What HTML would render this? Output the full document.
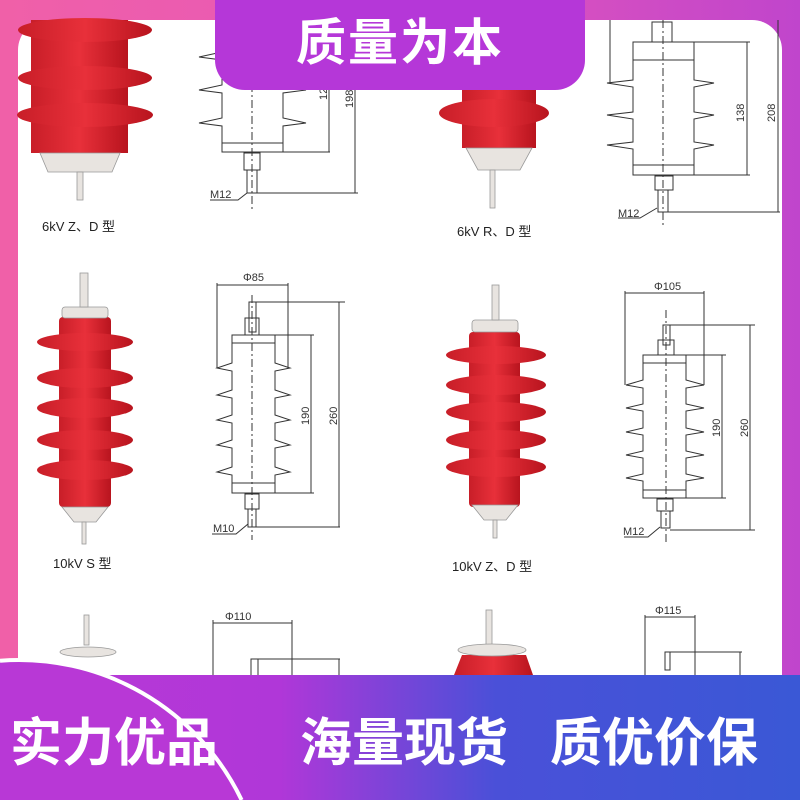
<!DOCTYPE html>
<html><head><meta charset="utf-8"><style>
html,body{margin:0;padding:0;width:800px;height:800px;overflow:hidden}
body{position:relative;background:linear-gradient(90deg,#f060a8 0%,#e657b8 50%,#c045cc 100%);font-family:"Liberation Sans","Noto Sans CJK SC",sans-serif}
#panel{position:absolute;left:18px;top:20px;width:764px;height:680px;background:#fff;border-radius:30px 30px 0 0;overflow:hidden}
#tab{position:absolute;left:215px;top:0;width:370px;height:90px;background:#b537d8;border-radius:0 0 30px 30px;color:#fff;font-size:50px;font-weight:bold;text-align:center;line-height:86px;letter-spacing:2px}
#band{position:absolute;left:0;top:675px;width:800px;height:125px;background:linear-gradient(90deg,#b838d6 0%,#b037d8 35%,#4a50d8 62%,#3a58d6 100%)}
.t{position:absolute;color:#fff;font-weight:bold;font-size:52px;top:716px;line-height:56px;height:56px}
svg text{font-family:"Liberation Sans","Noto Sans CJK SC",sans-serif}
</style></head><body>
<div id="panel"></div>
<svg width="800" height="800" style="position:absolute;left:0;top:0">
<defs><linearGradient id="r" x1="0" x2="1"><stop offset="0" stop-color="#c81e28"/><stop offset=".5" stop-color="#e8303a"/><stop offset="1" stop-color="#b8141e"/></linearGradient></defs>
<g fill="url(#r)">
<rect x="31" y="20" width="97" height="133"/>
<ellipse cx="85" cy="30" rx="67" ry="12"/><ellipse cx="85" cy="78" rx="67" ry="12"/><ellipse cx="85" cy="115" rx="68" ry="12"/>
<rect x="462" y="88" width="74" height="60"/><ellipse cx="494" cy="113" rx="55" ry="14"/>
<rect x="59" y="317" width="52" height="190" rx="4"/>
<ellipse cx="85" cy="342" rx="48" ry="9"/><ellipse cx="85" cy="378" rx="48" ry="10"/><ellipse cx="85" cy="408" rx="48" ry="10"/><ellipse cx="85" cy="440" rx="48" ry="10"/><ellipse cx="85" cy="470" rx="48" ry="10"/>
<rect x="469" y="332" width="51" height="175" rx="4"/>
<ellipse cx="496" cy="355" rx="50" ry="9"/><ellipse cx="496" cy="385" rx="50" ry="10"/><ellipse cx="496" cy="412" rx="50" ry="10"/><ellipse cx="496" cy="440" rx="50" ry="10"/><ellipse cx="496" cy="467" rx="50" ry="10"/>
<path d="M462 655 L526 655 L533 675 L454 675 Z"/>
</g>
<g fill="#e8e4e0" stroke="#999" stroke-width="0.8">
<path d="M40 153 L120 153 L112 172 L48 172 Z"/><rect x="77" y="172" width="6" height="28"/>
<path d="M466 148 L532 148 L520 170 L478 170 Z"/><rect x="490" y="170" width="5" height="38"/>
<rect x="62" y="307" width="46" height="11" rx="3"/><rect x="80" y="273" width="8" height="34"/>
<path d="M62 507 L108 507 L96 522 L74 522 Z"/><rect x="82" y="522" width="4" height="22"/>
<rect x="472" y="320" width="46" height="12" rx="3"/><rect x="492" y="285" width="7" height="35"/>
<path d="M472 505 L518 505 L506 520 L484 520 Z"/><rect x="493" y="520" width="4" height="18"/>
<rect x="84" y="615" width="5" height="30"/><ellipse cx="88" cy="652" rx="28" ry="5"/>
<rect x="486" y="610" width="6" height="35"/><ellipse cx="492" cy="650" rx="34" ry="6"/>
</g>
<g fill="none" stroke="#333" stroke-width="1">
<line x1="252" y1="20" x2="252" y2="210" stroke-dasharray="8 3 2 3"/>
<path d="M222 20 L222 52 L199 57 L222 60 L222 85 L199 90 L222 93 L222 118 L199 123 L222 126 L222 152 L283 152 L283 126 L306 123 L283 118 L283 93 L306 90 L283 85 L283 60 L306 57 L283 52 L283 20"/>
<line x1="222" y1="143" x2="283" y2="143"/>
<rect x="244" y="153" width="16" height="17"/><rect x="247" y="170" width="10" height="23"/>
<line x1="283" y1="152" x2="330" y2="152"/><line x1="329" y1="20" x2="329" y2="152"/>
<line x1="257" y1="193" x2="358" y2="193"/><line x1="355" y1="20" x2="355" y2="193"/>
<path d="M210 200 L238 200 L247 193"/>
<line x1="663" y1="20" x2="663" y2="225" stroke-dasharray="8 3 2 3"/>
<rect x="652" y="22" width="20" height="20"/>
<path d="M633 42 L633 80 L607 83 L633 87 L633 112 L607 115 L633 119 L633 142 L607 145 L633 149 L633 175 L694 175 L694 149 L714 145 L694 142 L694 119 L714 115 L694 112 L694 87 L714 83 L694 80 L694 42 Z"/>
<line x1="633" y1="60" x2="694" y2="60"/><line x1="633" y1="165" x2="694" y2="165"/>
<rect x="655" y="176" width="18" height="14"/><rect x="658" y="190" width="10" height="22"/>
<line x1="694" y1="42" x2="750" y2="42"/><line x1="747" y1="42" x2="747" y2="175"/><line x1="694" y1="175" x2="750" y2="175"/>
<line x1="668" y1="212" x2="780" y2="212"/><line x1="778" y1="20" x2="778" y2="212"/>
<path d="M618 218 L640 218 L657 208"/>
<line x1="610" y1="20" x2="610" y2="83"/>
<line x1="252" y1="295" x2="252" y2="540" stroke-dasharray="8 3 2 3"/>
<line x1="217" y1="285" x2="288" y2="285"/><line x1="217" y1="283" x2="217" y2="368"/><line x1="288" y1="283" x2="288" y2="368"/>
<rect x="249" y="302" width="7" height="30"/><rect x="245" y="318" width="14" height="17"/>
<path d="M232 335 L232 363 L217 368 L232 371 L232 390 L217 395 L232 398 L232 415 L217 420 L232 423 L232 440 L217 445 L232 448 L232 467 L217 472 L232 475 L232 493 L275 493 L275 475 L290 472 L275 467 L275 448 L290 445 L275 440 L275 423 L290 420 L275 415 L275 398 L290 395 L275 390 L275 371 L290 368 L275 363 L275 335 Z"/>
<line x1="232" y1="343" x2="275" y2="343"/><line x1="232" y1="483" x2="275" y2="483"/>
<rect x="245" y="494" width="14" height="15"/><rect x="248" y="509" width="8" height="18"/>
<line x1="256" y1="302" x2="345" y2="302"/><line x1="339" y1="302" x2="339" y2="527"/><line x1="256" y1="527" x2="340" y2="527"/>
<line x1="275" y1="335" x2="314" y2="335"/><line x1="311" y1="335" x2="311" y2="493"/><line x1="275" y1="493" x2="314" y2="493"/>
<path d="M212 534 L236 534 L248 524"/>
<line x1="666" y1="310" x2="666" y2="545" stroke-dasharray="8 3 2 3"/>
<line x1="625" y1="293" x2="704" y2="293"/><line x1="625" y1="291" x2="625" y2="385"/><line x1="704" y1="291" x2="704" y2="385"/>
<rect x="663" y="325" width="7" height="20"/><rect x="658" y="340" width="16" height="15"/>
<path d="M643 355 L643 380 L626 385 L643 388 L643 404 L626 408 L643 411 L643 428 L626 432 L643 435 L643 451 L626 455 L643 458 L643 474 L626 478 L643 481 L643 498 L686 498 L686 481 L704 478 L686 474 L686 458 L704 455 L686 451 L686 435 L704 432 L686 428 L686 411 L704 408 L686 404 L686 388 L704 385 L686 380 L686 355 Z"/>
<line x1="643" y1="363" x2="686" y2="363"/><line x1="643" y1="490" x2="686" y2="490"/>
<rect x="657" y="499" width="16" height="12"/><rect x="661" y="511" width="9" height="17"/>
<line x1="670" y1="325" x2="755" y2="325"/><line x1="750" y1="325" x2="750" y2="530"/><line x1="670" y1="530" x2="755" y2="530"/>
<line x1="686" y1="355" x2="726" y2="355"/><line x1="722" y1="355" x2="722" y2="498"/><line x1="686" y1="498" x2="726" y2="498"/>
<path d="M624 537 L648 537 L660 527"/>
<line x1="213" y1="623" x2="292" y2="623"/><line x1="213" y1="620" x2="213" y2="680"/><line x1="292" y1="620" x2="292" y2="680"/>
<rect x="251" y="659" width="7" height="20"/><line x1="258" y1="659" x2="340" y2="659"/><line x1="339" y1="659" x2="339" y2="680"/>
<line x1="645" y1="617" x2="695" y2="617"/><line x1="645" y1="615" x2="645" y2="680"/><line x1="695" y1="615" x2="695" y2="680"/>
<rect x="665" y="652" width="5" height="18"/><line x1="670" y1="652" x2="742" y2="652"/><line x1="740" y1="652" x2="740" y2="680"/>
</g>
<g fill="#333" font-size="11">
<text x="210" y="198">M12</text>
<text x="618" y="217">M12</text>
<text x="213" y="532">M10</text>
<text x="623" y="535">M12</text>
<text x="243" y="281">Φ85</text>
<text x="654" y="290">Φ105</text>
<text x="225" y="620">Φ110</text>
<text x="655" y="614">Φ115</text>
<text transform="translate(327 100) rotate(-90)">12</text>
<text transform="translate(353 108) rotate(-90)">198</text>
<text transform="translate(744 122) rotate(-90)">138</text>
<text transform="translate(775 122) rotate(-90)">208</text>
<text transform="translate(309 425) rotate(-90)">190</text>
<text transform="translate(337 425) rotate(-90)">260</text>
<text transform="translate(720 437) rotate(-90)">190</text>
<text transform="translate(748 437) rotate(-90)">260</text>
</g>
<g fill="#222" font-size="13">
<text x="42" y="231">6kV  Z、D 型</text>
<text x="457" y="236">6kV  R、D 型</text>
<text x="53" y="568">10kV  S 型</text>
<text x="452" y="571">10kV  Z、D 型</text>
</g>
<rect x="0" y="675" width="800" height="125" fill="url(#bandg)"/>
<defs><linearGradient id="bandg" x1="0" x2="1"><stop offset="0" stop-color="#b838d6"/><stop offset=".35" stop-color="#b037d8"/><stop offset=".62" stop-color="#4a50d8"/><stop offset="1" stop-color="#3a58d6"/></linearGradient></defs>
<path d="M0 800 L0 660.7 A247 247 0 0 1 241.6 800 Z" fill="#b838d6"/>
<path d="M0 660.7 A247 247 0 0 1 241.6 800" fill="none" stroke="#fff" stroke-width="4"/>
</svg>
<div id="tab">质量为本</div>
<div class="t" style="left:10px">实力优品</div>
<div class="t" style="left:300px">海量现货</div>
<div class="t" style="left:550px">质优价保</div>
</body></html>
